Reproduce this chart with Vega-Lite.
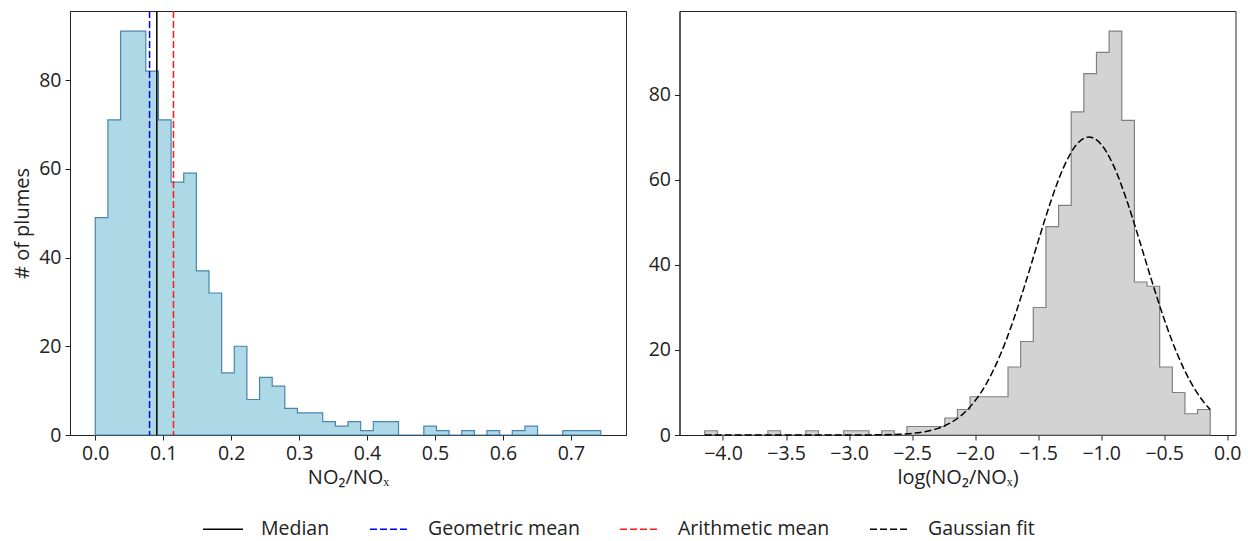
{
  "$schema": "https://vega.github.io/schema/vega-lite/v6.json",
  "padding": {"left": 12, "top": 9, "right": 0, "bottom": 12},
  "bounds": "flush",
  "spacing": 53.5,
  "config": {
    "font": "Open Sans",
    "view": {"stroke": "#262626", "strokeWidth": 1},
    "axis": {
      "labelFontSize": 19.5, "titleFontSize": 20, "labelColor": "#222", "titleColor": "#222",
      "tickColor": "#222", "domainColor": "#222", "tickSize": 5, "labelPadding": 4, "grid": false,
      "titleFontWeight": "normal", "labelFont": "Open Sans", "titleFont": "Open Sans", "zindex": 1
    }
  },
  "datasets": {
    "histA": [
      {"x": 0, "count": 49}, {"x": 0.0186, "count": 71}, {"x": 0.0372, "count": 91}, {"x": 0.0558, "count": 91},
      {"x": 0.0744, "count": 82}, {"x": 0.093, "count": 71}, {"x": 0.1116, "count": 57}, {"x": 0.1302, "count": 59},
      {"x": 0.1488, "count": 37}, {"x": 0.1674, "count": 32}, {"x": 0.186, "count": 14}, {"x": 0.2046, "count": 20},
      {"x": 0.2232, "count": 8}, {"x": 0.2418, "count": 13}, {"x": 0.2604, "count": 11}, {"x": 0.279, "count": 6},
      {"x": 0.2976, "count": 5}, {"x": 0.3162, "count": 5}, {"x": 0.3348, "count": 3}, {"x": 0.3534, "count": 2},
      {"x": 0.372, "count": 3}, {"x": 0.3906, "count": 1}, {"x": 0.4092, "count": 3}, {"x": 0.4278, "count": 3},
      {"x": 0.4464, "count": 0}, {"x": 0.465, "count": 0}, {"x": 0.4836, "count": 2}, {"x": 0.5022, "count": 1},
      {"x": 0.5208, "count": 0}, {"x": 0.5394, "count": 1}, {"x": 0.558, "count": 0}, {"x": 0.5766, "count": 1},
      {"x": 0.5952, "count": 0}, {"x": 0.6138, "count": 1}, {"x": 0.6324, "count": 2}, {"x": 0.651, "count": 0},
      {"x": 0.6696, "count": 0}, {"x": 0.6882, "count": 1}, {"x": 0.7068, "count": 1}, {"x": 0.7254, "count": 1},
      {"x": 0.744, "count": 1}
    ],
    "histB": [
      {"x": -4.145, "count": 1}, {"x": -4.0448, "count": 0}, {"x": -3.9445, "count": 0}, {"x": -3.8443, "count": 0},
      {"x": -3.744, "count": 0}, {"x": -3.6438, "count": 1}, {"x": -3.5435, "count": 0}, {"x": -3.4433, "count": 0},
      {"x": -3.343, "count": 1}, {"x": -3.2428, "count": 0}, {"x": -3.1425, "count": 0}, {"x": -3.0423, "count": 1},
      {"x": -2.942, "count": 1}, {"x": -2.8418, "count": 0}, {"x": -2.7415, "count": 1}, {"x": -2.6413, "count": 0},
      {"x": -2.541, "count": 2}, {"x": -2.4408, "count": 2}, {"x": -2.3405, "count": 2}, {"x": -2.2403, "count": 4},
      {"x": -2.14, "count": 6}, {"x": -2.0398, "count": 9}, {"x": -1.9395, "count": 9}, {"x": -1.8393, "count": 9},
      {"x": -1.739, "count": 16}, {"x": -1.6388, "count": 22}, {"x": -1.5385, "count": 30}, {"x": -1.4383, "count": 49},
      {"x": -1.338, "count": 54}, {"x": -1.2378, "count": 76}, {"x": -1.1375, "count": 85}, {"x": -1.0373, "count": 90},
      {"x": -0.937, "count": 95}, {"x": -0.8368, "count": 74}, {"x": -0.7365, "count": 36}, {"x": -0.6363, "count": 35},
      {"x": -0.536, "count": 16}, {"x": -0.4358, "count": 10}, {"x": -0.3355, "count": 5}, {"x": -0.2353, "count": 6},
      {"x": -0.135, "count": 6}
    ],
    "stats": [
      {"stat": "Median", "value": 0.0906},
      {"stat": "Geometric mean", "value": 0.0799},
      {"stat": "Arithmetic mean", "value": 0.1151}
    ],
    "gauss": [
      {"x": -4.145, "y": 0}, {"x": -3.5, "y": 0}, {"x": -3.0, "y": 0.005}, {"x": -2.8, "y": 0.03},
      {"x": -2.6, "y": 0.17}, {"x": -2.5, "y": 0.38}, {"x": -2.4, "y": 0.77}, {"x": -2.3, "y": 1.5},
      {"x": -2.2, "y": 2.78}, {"x": -2.1, "y": 4.85}, {"x": -2.0, "y": 8.05}, {"x": -1.9, "y": 12.66},
      {"x": -1.8, "y": 18.88}, {"x": -1.7, "y": 26.7}, {"x": -1.6, "y": 35.81}, {"x": -1.5, "y": 45.55},
      {"x": -1.4, "y": 54.94}, {"x": -1.3, "y": 62.84}, {"x": -1.2, "y": 68.15}, {"x": -1.097, "y": 70.1},
      {"x": -1.0, "y": 68.37}, {"x": -0.9, "y": 63.24}, {"x": -0.8, "y": 55.46}, {"x": -0.7, "y": 46.13},
      {"x": -0.6, "y": 36.39}, {"x": -0.5, "y": 27.22}, {"x": -0.4, "y": 19.31}, {"x": -0.3, "y": 12.98},
      {"x": -0.2, "y": 8.28}, {"x": -0.135, "y": 6.01}
    ]
  },
  "resolve": {
    "scale": {"color": "shared", "strokeDash": "shared", "x": "independent", "y": "independent"},
    "legend": {"color": "shared", "strokeDash": "shared"}
  },
  "hconcat": [
    {
      "width": 556,
      "height": 424,
      "layer": [
        {
          "data": {"name": "histA"},
          "mark": {"type": "area", "interpolate": "step-after", "fill": "#add8e6", "stroke": "#4a84b0", "strokeWidth": 1.2},
          "encoding": {
            "x": {"field": "x", "type": "quantitative", "scale": {"domain": [-0.0372, 0.7812], "nice": false, "zero": false},
              "axis": {"title": "NO₂/NOₓ", "values": [0, 0.1, 0.2, 0.3, 0.4, 0.5, 0.6, 0.7], "format": ".1f", "titlePadding": 5, "domain": true}},
            "y": {"field": "count", "type": "quantitative", "scale": {"domain": [0, 95.55], "nice": false},
              "axis": {"title": "# of plumes", "values": [0, 20, 40, 60, 80], "titlePadding": 6, "domain": true}}
          }
        },
        {
          "data": {"name": "stats"},
          "mark": {"type": "rule", "strokeWidth": 1.5},
          "encoding": {
            "x": {"field": "value", "type": "quantitative"},
            "color": {"field": "stat", "type": "nominal",
              "scale": {"domain": ["Median", "Geometric mean", "Arithmetic mean", "Gaussian fit"], "range": ["#000000", "#0000ff", "#ff1a1a", "#000000"]},
              "legend": {"title": null, "orient": "none", "legendX": 132, "legendY": 497, "direction": "horizontal", "columns": 4,
                "symbolType": "stroke", "symbolSize": 1600, "symbolStrokeWidth": 1.5, "labelFontSize": 19.5, "labelColor": "#222",
                "labelOffset": 17, "columnPadding": 37, "labelFont": "Open Sans", "labelLimit": 400}},
            "strokeDash": {"field": "stat", "type": "nominal",
              "scale": {"domain": ["Median", "Geometric mean", "Arithmetic mean", "Gaussian fit"], "range": [[1, 0], [7, 3], [7, 3], [7, 3]]},
              "legend": {"title": null, "orient": "none", "legendX": 132, "legendY": 497, "direction": "horizontal", "columns": 4,
                "symbolType": "stroke", "symbolSize": 1600, "symbolStrokeWidth": 1.5, "labelFontSize": 19.5, "labelColor": "#222",
                "labelOffset": 17, "columnPadding": 37, "labelFont": "Open Sans", "labelLimit": 400}}
          }
        },
        {
          "mark": {"type": "text", "text": "a", "fontSize": 22, "fontWeight": "bold", "align": "right", "baseline": "alphabetic", "color": "#111"},
          "encoding": {"x": {"datum": 0.7615}, "y": {"datum": 89.1}}
        }
      ]
    },
    {
      "width": 556,
      "height": 424,
      "layer": [
        {
          "data": {"name": "histB"},
          "mark": {"type": "area", "interpolate": "step-after", "fill": "#d3d3d3", "stroke": "#808080", "strokeWidth": 1.2},
          "encoding": {
            "x": {"field": "x", "type": "quantitative", "scale": {"domain": [-4.345, 0.0655], "nice": false, "zero": false},
              "axis": {"title": "log(NO₂/NOₓ)", "values": [-4, -3.5, -3, -2.5, -2, -1.5, -1, -0.5, 0], "format": ".1f", "titlePadding": 5, "domain": true}},
            "y": {"field": "count", "type": "quantitative", "scale": {"domain": [0, 99.75], "nice": false},
              "axis": {"title": null, "values": [0, 20, 40, 60, 80], "domain": true}}
          }
        },
        {
          "data": {"name": "gauss"},
          "mark": {"type": "line", "interpolate": "monotone", "strokeWidth": 1.5},
          "encoding": {
            "x": {"field": "x", "type": "quantitative"},
            "y": {"field": "y", "type": "quantitative"},
            "color": {"datum": "Gaussian fit"},
            "strokeDash": {"datum": "Gaussian fit"}
          }
        },
        {
          "mark": {"type": "text", "text": "b", "fontSize": 22, "fontWeight": "bold", "align": "right", "baseline": "alphabetic", "color": "#111"},
          "encoding": {"x": {"datum": -0.025}, "y": {"datum": 93.4}}
        }
      ]
    }
  ]
}
